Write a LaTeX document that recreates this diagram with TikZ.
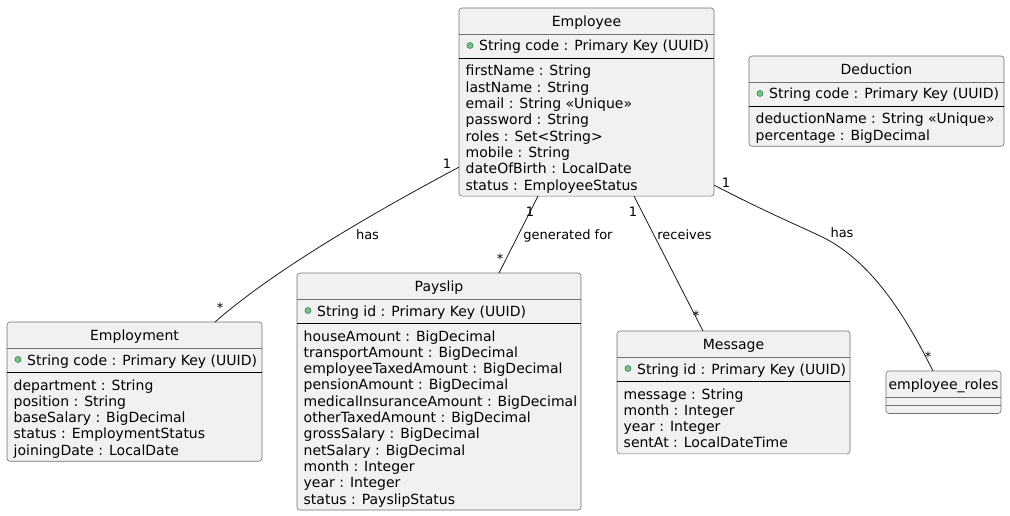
\documentclass[tikz,border=0pt]{standalone}
\usepackage{fontspec}
\setmainfont{DejaVu Sans}
\definecolor{boxfill}{HTML}{F1F1F1}
\definecolor{boxline}{HTML}{707070}
\definecolor{linkline}{HTML}{181818}
\definecolor{dotfill}{HTML}{84BE84}
\definecolor{dotline}{HTML}{038048}
\tikzset{
  classbox/.style={draw=boxline, line width=0.6pt, fill=boxfill, rounded corners=3pt, anchor=north west, inner sep=0pt, outer sep=0pt},
  clstitle/.style={font=\fontsize{14}{16}\selectfont, anchor=base, inner sep=0pt},
  attr/.style={font=\fontsize{14}{16}\selectfont, anchor=base west, inner sep=0pt},
  sepline/.style={draw=boxline, line width=0.6pt},
  fieldline/.style={draw=black, line width=0.9pt},
  pkdot/.style={circle, fill=dotfill, draw=dotline, line width=0.5pt, minimum size=6pt, inner sep=0pt},
  link/.style={draw=linkline, line width=0.8pt},
  lbl/.style={font=\fontsize{13}{15}\selectfont, anchor=base, inner sep=0pt},
}
% #1 name, #2 x, #3 y, #4 width, #5 number of attributes, #6 title, #7 key, #8 attributes
\newcommand\umlclass[8]{%
  \pgfmathsetmacro\umlh{68+16.3*(#5-1)+6}%
  \node[classbox, minimum width=#4pt, minimum height=\umlh pt] (#1) at (#2,#3) {};
  \draw[sepline] (#2,#3+26) -- ++(#4,0);
  \node[clstitle] (#1-t) at (#2+#4/2,#3+18.5) {#6};
  \node[pkdot] (#1-d) at (#2+11,#3+37.5) {};
  \node[attr] (#1-k) at (#2+20,#3+43) {#7};
  \draw[fieldline] (#2,#3+50) -- ++(#4,0);
  \foreach \a [count=\i] in {#8} {\node[attr] (#1-a\i) at (#2+6.5,#3+68+16.3*\i-16.3) {\a};}
}
\begin{document}
\begin{tikzpicture}[x=1pt, y=-1pt]
\useasboundingbox (0,0) rectangle (1010,516);

\umlclass{emp}{459}{8}{255}{8}{Employee}{String code : Primary Key (UUID)}%
  {firstName : String, lastName : String, email : String «Unique», password : String, roles : Set<String>, mobile : String, dateOfBirth : LocalDate, status : EmployeeStatus}

\umlclass{ded}{749}{56}{255}{2}{Deduction}{String code : Primary Key (UUID)}%
  {deductionName : String «Unique», percentage : BigDecimal}

\umlclass{empl}{7}{322}{255}{5}{Employment}{String code : Primary Key (UUID)}%
  {department : String, position : String, baseSalary : BigDecimal, status : EmploymentStatus, joiningDate : LocalDate}

\umlclass{pay}{297}{273}{284}{11}{Payslip}{String id : Primary Key (UUID)}%
  {houseAmount : BigDecimal, transportAmount : BigDecimal, employeeTaxedAmount : BigDecimal, pensionAmount : BigDecimal, medicalInsuranceAmount : BigDecimal, otherTaxedAmount : BigDecimal, grossSalary : BigDecimal, netSalary : BigDecimal, month : Integer, year : Integer, status : PayslipStatus}

\umlclass{msg}{617}{331}{233}{4}{Message}{String id : Primary Key (UUID)}%
  {message : String, month : Integer, year : Integer, sentAt : LocalDateTime}

% employee_roles (empty compartments)
\node[classbox, minimum width=115pt, minimum height=42.5pt] (roles) at (886,371) {};
\node[clstitle] (roles-t) at (943.5,389) {employee\_roles};
\draw[sepline] (886,397.5) -- ++(115,0);
\draw[sepline] (886,405.5) -- ++(115,0);

% connectors
\coordinate (l1s) at ([yshift=29pt]emp.south west);
\coordinate (l1e) at ([xshift=208pt]empl.north west);
\draw[link] (l1s) .. controls (390,204) and (280,265) .. (l1e);
\node[lbl] (l1a) at (447,168) {1};
\node[lbl] (l1b) at (367.5,239.5) {has};
\node[lbl] (l1c) at (220,312) {*};

\coordinate (l2s) at ([xshift=79pt]emp.south west);
\coordinate (l2e) at ([xshift=202pt]pay.north west);
\draw[link] (l2s) -- (l2e);
\node[lbl] (l2a) at (530,216) {1};
\node[lbl] (l2b) at (568,239) {generated for};
\node[lbl] (l2c) at (500,263) {*};

\coordinate (l3s) at ([xshift=175pt]emp.south west);
\coordinate (l3e) at ([xshift=86pt]msg.north west);
\draw[link] (l3s) -- (l3e);
\node[lbl] (l3a) at (633,216) {1};
\node[lbl] (l3b) at (684.5,239) {receives};
\node[lbl] (l3c) at (696,320) {*};

\coordinate (l4s) at ([yshift=11pt]emp.south east);
\coordinate (l4m) at (817,234.5);
\coordinate (l4e) at ([xshift=47pt]roles.north west);
\draw[link] (l4s) .. controls (760,209) and (790,222) .. (l4m) .. controls (870,258) and (905,315) .. (l4e);
\node[lbl] (l4a) at (726,187) {1};
\node[lbl] (l4b) at (842,237.5) {has};
\node[lbl] (l4c) at (928,361) {*};
\end{tikzpicture}
\end{document}
